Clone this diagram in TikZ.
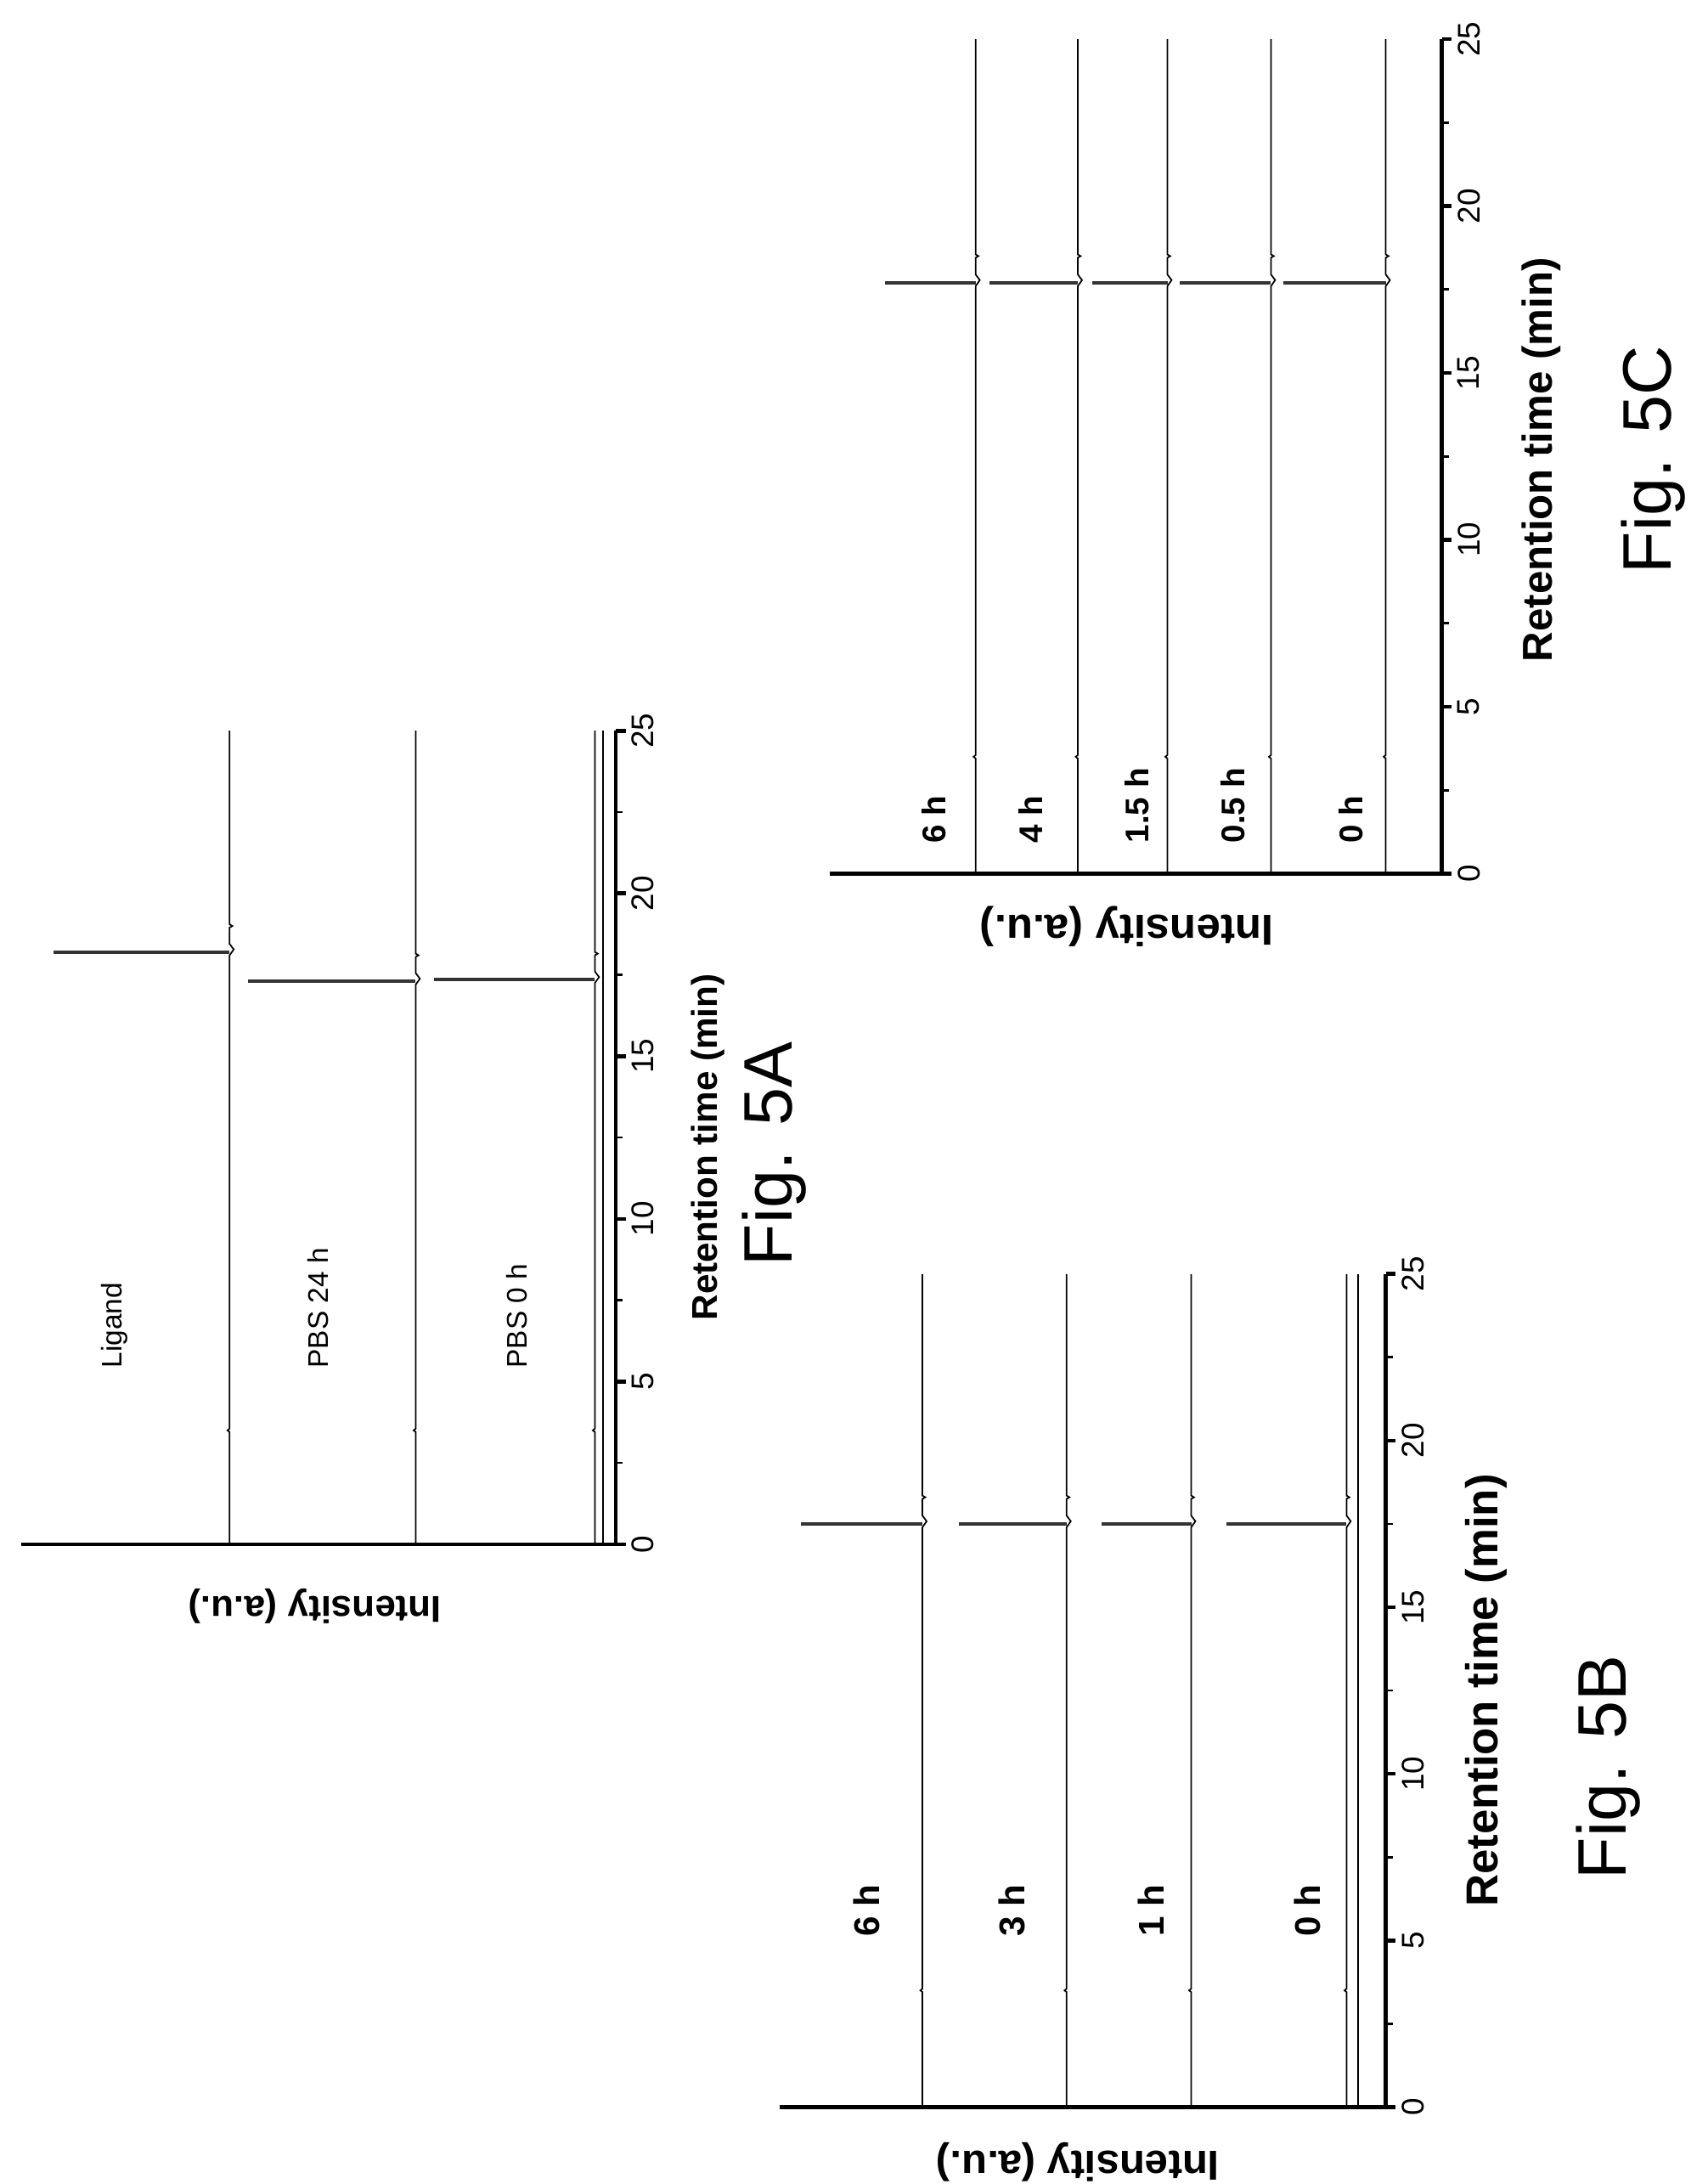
\documentclass[tikz,border=0pt]{standalone}
\usepackage{fontspec}
\setmainfont{Liberation Sans}
% one chromatogram: x of baseline, peak time, left end of peak
\newcommand\chrom[3]{%
  \draw[trace] (#1,0) -- (#1,3.45) -- (#1-1.5,3.5) -- (#1,3.55) -- (#1,#2-0.1) -- (#1+3,#2+0.08)
    -- (#1,#2+0.25) -- (#1,#2+0.75) -- (#1+2,#2+0.8) -- (#1,#2+0.85) -- (#1,25);
  \draw[line width=1.1pt, black!80] (#1,#2) -- (#3,#2);}
\newcommand\timeaxis[2]{% x of axis, left end of intensity axis
  \draw[axisline] (#2,0) -- (#1,0) -- (#1,25);
  \foreach \t in {0,5,...,25} {
    \draw[axisline] (#1,\t) -- (#1+7,\t);
    \node[ticklab] (tick\t) at (#1+9,\t) {\t};
  }
  \foreach \t in {2.5,7.5,...,22.5} \draw[line width=0.8pt] (#1,\t) -- (#1+5,\t);}
\begin{document}
\begin{tikzpicture}[x=0.1648mm, y=-0.1648mm,
  axisline/.style={line width=1.3pt},
  trace/.style={line width=0.5pt},
  ticklab/.style={rotate=90, anchor=north, inner sep=1pt, font=\fontsize{10.5}{12}\selectfont},
  trlab/.style={rotate=90, anchor=west, inner sep=0pt},
  rtlab/.style={rotate=90, font=\bfseries},
  figlab/.style={rotate=90, font=\fontsize{23}{26}\selectfont},
  intlab/.style={rotate=180, font=\bfseries}]
\useasboundingbox (0,0) rectangle (1220,1560);

% Fig. 5A
\begin{scope}[shift={(0,1103)}, y={(0mm,3.83mm)}]
  \timeaxis{440}{15}
  \chrom{164}{18.2}{38}
  \chrom{297}{17.3}{177}
  \chrom{425}{17.35}{310}
  \draw[trace] (431,0) -- (431,25);
  \node[trlab, font=\fontsize{9.5}{11}\selectfont] (ligand) at (82,5.4) {Ligand};
  \node[trlab, font=\fontsize{9.5}{11}\selectfont] (pbs24) at (227,5.4) {PBS 24 h};
  \node[trlab, font=\fontsize{9.5}{11}\selectfont] (pbs0) at (369,5.4) {PBS 0 h};
  \node[rtlab, font=\bfseries\fontsize{12}{14}\selectfont] (rtA) at (506,12.2) {Retention time (min)};
  \node[figlab] (figA) at (553,12) {Fig. 5A};
  \node[intlab, font=\bfseries\fontsize{12.5}{14}\selectfont] (intA) at (225,-1.9) {Intensity (a.u.)};
\end{scope}

% Fig. 5B
\begin{scope}[shift={(0,1505)}, y={(0mm,3.922mm)}]
  \timeaxis{990}{557}
  \chrom{659}{17.5}{572}
  \chrom{762}{17.5}{685}
  \chrom{851}{17.5}{787}
  \chrom{962}{17.5}{876}
  \draw[trace] (970,0) -- (970,25);
  \foreach \x/\lab/\name in {619/6 h/b6, 723/3 h/b3, 822/1 h/b1, 934/0 h/b0}
    \node[trlab, font=\bfseries\fontsize{12}{14}\selectfont] (\name) at (\x,5.1) {\lab};
  \node[rtlab, font=\bfseries\fontsize{15}{17}\selectfont] (rtB) at (1062,12.5) {Retention time (min)};
  \node[figlab] (figB) at (1149,10.2) {Fig. 5B};
  \node[intlab, font=\bfseries\fontsize{14}{16}\selectfont] (intB) at (770,-1.66) {Intensity (a.u.)};
\end{scope}

% Fig. 5C
\begin{scope}[shift={(0,624)}, y={(0mm,3.929mm)}]
  \timeaxis{1030}{593}
  \chrom{697}{17.7}{632}
  \chrom{770}{17.7}{707}
  \chrom{834}{17.7}{780}
  \chrom{908}{17.7}{843}
  \chrom{990}{17.7}{917}
  \foreach \x/\lab/\name in {667/6 h/c6, 736/4 h/c4, 812/1.5 h/c15, 881/0.5 h/c05, 965/0 h/c0}
    \node[trlab, font=\bfseries\fontsize{11}{13}\selectfont] (\name) at (\x,0.9) {\lab};
  \node[rtlab, font=\bfseries\fontsize{14}{16}\selectfont] (rtC) at (1101,12.4) {Retention time (min)};
  \node[figlab] (figC) at (1181,12.4) {Fig. 5C};
  \node[intlab, font=\bfseries\fontsize{14.5}{16}\selectfont] (intC) at (805,-1.58) {Intensity (a.u.)};
\end{scope}
\end{tikzpicture}
\end{document}
